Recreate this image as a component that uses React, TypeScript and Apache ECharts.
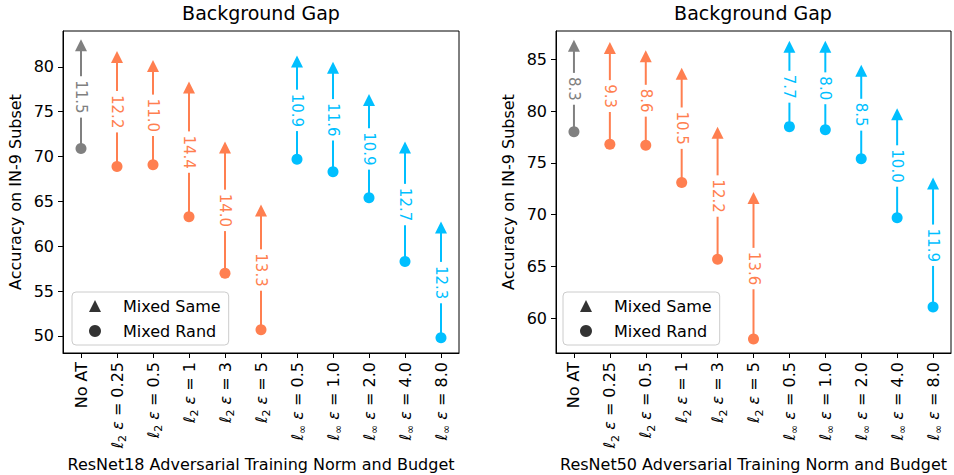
import { useEffect, useRef } from 'react';
import * as echarts from 'echarts';

const categories = [
  'No AT',
  'ℓ2 ε = 0.25',
  'ℓ2 ε = 0.5',
  'ℓ2 ε = 1',
  'ℓ2 ε = 3',
  'ℓ2 ε = 5',
  'ℓ∞ ε = 0.5',
  'ℓ∞ ε = 1.0',
  'ℓ∞ ε = 2.0',
  'ℓ∞ ε = 4.0',
  'ℓ∞ ε = 8.0',
];
const categoryGroup = [0, 1, 1, 1, 1, 1, 2, 2, 2, 2, 2];
const groupColors = ['#808080', '#FF7F50', '#00BFFF'];

const r18Rand = [70.9, 68.9, 69.1, 63.3, 57.0, 50.7, 69.7, 68.3, 65.4, 58.3, 49.8];
const r18Same = [82.4, 81.1, 80.1, 77.7, 71.0, 64.0, 80.6, 79.9, 76.3, 71.0, 62.1];
const r18Gap = [11.5, 12.2, 11.0, 14.4, 14.0, 13.3, 10.9, 11.6, 10.9, 12.7, 12.3];

const r50Rand = [78.0, 76.8, 76.7, 73.1, 65.7, 58.0, 78.5, 78.2, 75.4, 69.7, 61.1];
const r50Same = [86.3, 86.1, 85.3, 83.6, 77.9, 71.6, 86.2, 86.2, 83.9, 79.7, 73.0];
const r50Gap = [8.3, 9.3, 8.6, 10.5, 12.2, 13.6, 7.7, 8.0, 8.5, 10.0, 11.9];

const r18Ticks = [50, 55, 60, 65, 70, 75, 80];
const r50Ticks = [60, 65, 70, 75, 80, 85];
const r18Range = [48.1, 84.0];
const r50Range = [56.65, 87.73];

const legendNames = ['Mixed Same', 'Mixed Rand'];
const chartTitle = 'Background Gap';
const yName = 'Accuracy on IN-9 Subset';
const xNames = [
  'ResNet18 Adversarial Training Norm and Budget',
  'ResNet50 Adversarial Training Norm and Budget',
];

const FONT = 'DejaVu Sans';

function buildRows(rand: number[], same: number[], gap: number[]) {
  return categories.map((_, i) => [i, rand[i], same[i], gap[i], categoryGroup[i]]);
}

function renderItem(_params: any, api: any) {
  const idx = api.value(0);
  const rand = api.value(1);
  const same = api.value(2);
  const gap = api.value(3);
  const color = groupColors[api.value(4)];
  const p1 = api.coord([idx, rand]);
  const p2 = api.coord([idx, same]);
  const x = p1[0];
  const s = 6;
  return {
    type: 'group',
    children: [
      {
        type: 'line',
        shape: { x1: x, y1: p1[1], x2: x, y2: p2[1] },
        style: { stroke: color, lineWidth: 2 },
      },
      {
        type: 'text',
        x: x,
        y: (p1[1] + p2[1]) / 2,
        rotation: -Math.PI / 2,
        style: {
          text: gap.toFixed(1),
          x: 0,
          y: 0,
          fill: color,
          fontSize: 15,
          fontFamily: FONT,
          align: 'center',
          verticalAlign: 'middle',
          backgroundColor: '#fff',
          padding: [1, 4],
        },
      },
      {
        type: 'circle',
        shape: { cx: x, cy: p1[1], r: 5.5 },
        style: { fill: color },
      },
      {
        type: 'polygon',
        shape: {
          points: [
            [x, p2[1] - s],
            [x - s, p2[1] + s],
            [x + s, p2[1] + s],
          ],
        },
        style: { fill: color },
      },
    ],
  };
}

function labelFormatter(v: string) {
  const m = /^ℓ(2|∞) ε = (.*)$/.exec(v);
  if (!m) return v;
  return `{l|ℓ}{sub|${m[1]}} {e|ε} = ${m[2]}`;
}

function xAxis(gridIndex: number) {
  return {
    type: 'category',
    gridIndex,
    data: categories,
    boundaryGap: true,
    axisLine: { show: true, lineStyle: { color: '#000', width: 1 } },
    axisTick: { show: true, alignWithLabel: true, length: 5, lineStyle: { color: '#000' } },
    axisLabel: {
      rotate: 90,
      interval: 0,
      margin: 9,
      fontSize: 16,
      fontFamily: FONT,
      color: '#000',
      formatter: labelFormatter,
      rich: {
        l: { fontSize: 16, fontFamily: FONT, fontStyle: 'italic', color: '#000' },
        e: { fontSize: 16, fontFamily: FONT, fontStyle: 'italic', color: '#000' },
        sub: { fontSize: 11, fontFamily: FONT, color: '#000', verticalAlign: 'bottom', lineHeight: 22 },
      },
    },
    splitLine: { show: false },
    name: xNames[gridIndex],
    nameLocation: 'middle',
    nameGap: 100,
    nameTextStyle: { fontSize: 16, fontFamily: FONT, color: '#000' },
  };
}

function yAxis(gridIndex: number, range: number[], ticks: number[]) {
  return {
    type: 'value',
    gridIndex,
    min: range[0],
    max: range[1],
    axisLine: { show: true, lineStyle: { color: '#000', width: 1 } },
    axisTick: { show: true, length: 5, customValues: ticks, lineStyle: { color: '#000' } },
    axisLabel: { customValues: ticks, margin: 9, fontSize: 16, fontFamily: FONT, color: '#000' },
    splitLine: { show: false },
    name: yName,
    nameLocation: 'middle',
    nameGap: 40,
    nameTextStyle: { fontSize: 16, fontFamily: FONT, color: '#000' },
  };
}

function legend(left: number) {
  return {
    left,
    top: 292,
    orient: 'vertical',
    data: [
      { name: legendNames[0], icon: 'triangle' },
      { name: legendNames[1], icon: 'circle' },
    ],
    itemWidth: 12,
    itemHeight: 12,
    itemGap: 9,
    padding: [6, 8, 6, 17],
    borderColor: '#cccccc',
    borderWidth: 1,
    borderRadius: 4,
    backgroundColor: '#fff',
    symbolKeepAspect: true,
    selectedMode: false,
    textStyle: { fontSize: 16, fontFamily: FONT, color: '#000', padding: [0, 0, 0, 17] },
  };
}

function dummySeries(gridIndex: number) {
  return [
    { type: 'scatter', name: legendNames[0], symbol: 'triangle', xAxisIndex: gridIndex, yAxisIndex: gridIndex, data: [], itemStyle: { color: '#000' } },
    { type: 'scatter', name: legendNames[1], symbol: 'circle', xAxisIndex: gridIndex, yAxisIndex: gridIndex, data: [], itemStyle: { color: '#000' } },
  ];
}

export default function App() {
  const ref = useRef<HTMLDivElement>(null);
  useEffect(() => {
    if (!ref.current) return;
    const chart = echarts.init(ref.current, null, { renderer: 'svg' });
    const option: any = {
      animation: false,
      backgroundColor: '#fff',
      textStyle: { fontFamily: FONT },
      title: [
        { text: chartTitle, left: 261, top: 3, textAlign: 'center', padding: 0, textStyle: { fontSize: 19, fontWeight: 'normal', fontFamily: FONT, color: '#000' } },
        { text: chartTitle, left: 753, top: 3, textAlign: 'center', padding: 0, textStyle: { fontSize: 19, fontWeight: 'normal', fontFamily: FONT, color: '#000' } },
      ],
      legend: [legend(72), legend(563)],
      grid: [
        { left: 63, top: 31, width: 396, height: 322, show: true, borderColor: '#000', borderWidth: 1, backgroundColor: '#fff', containLabel: false, outerBoundsMode: 'none' },
        { left: 556, top: 31, width: 395, height: 322, show: true, borderColor: '#000', borderWidth: 1, backgroundColor: '#fff', containLabel: false, outerBoundsMode: 'none' },
      ],
      xAxis: [xAxis(0), xAxis(1)],
      yAxis: [yAxis(0, r18Range, r18Ticks), yAxis(1, r50Range, r50Ticks)],
      series: [
        {
          type: 'custom',
          xAxisIndex: 0,
          yAxisIndex: 0,
          clip: false,
          silent: true,
          renderItem,
          encode: { x: 0, y: [1, 2] },
          data: buildRows(r18Rand, r18Same, r18Gap),
        },
        {
          type: 'custom',
          xAxisIndex: 1,
          yAxisIndex: 1,
          clip: false,
          silent: true,
          renderItem,
          encode: { x: 0, y: [1, 2] },
          data: buildRows(r50Rand, r50Same, r50Gap),
        },
        ...dummySeries(0),
        ...dummySeries(1),
      ],
    };
    chart.setOption(option);
    return () => chart.dispose();
  }, []);
  return (
    <div
      ref={ref}
      style={{ position: 'absolute', left: 0, top: 0, width: 954, height: 475 }}
    />
  );
}
